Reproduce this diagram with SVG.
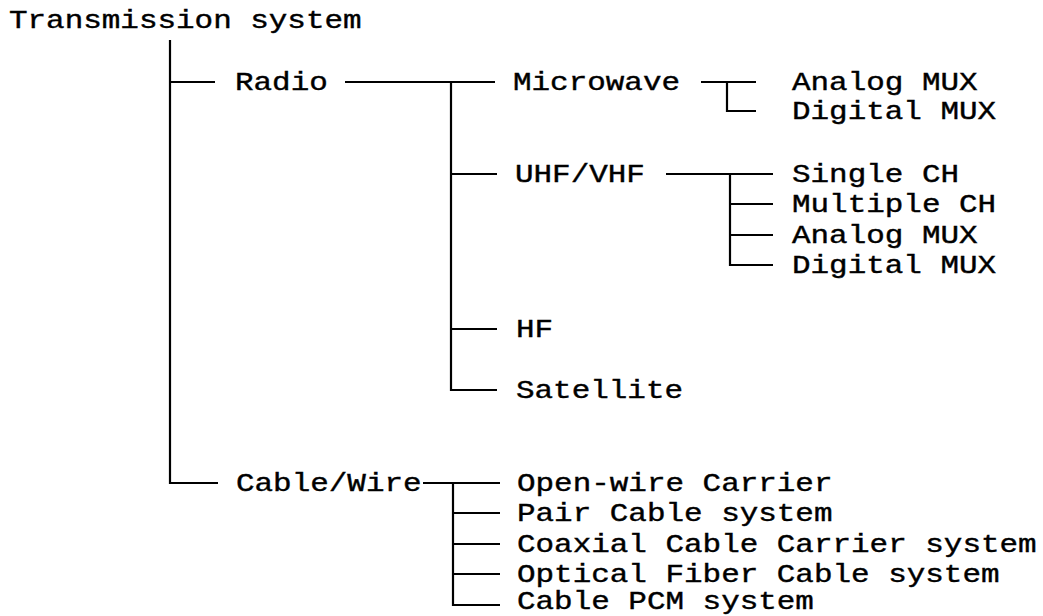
<svg xmlns="http://www.w3.org/2000/svg" width="1043" height="616" viewBox="0 0 1043 616">
<style>
.t{font-family:"Liberation Mono","Courier New",monospace;font-size:26px;fill:#000;stroke:#000;stroke-width:0.4}
.c{fill:none;stroke:#000;stroke-width:2.2;stroke-linecap:butt;stroke-linejoin:miter}
</style>
<rect x="0" y="0" width="1043" height="616" fill="#fff"/>
<g id="connectors" class="c">
<path d="M170 40 V483 H218"/>
<path d="M170 82 H215"/>
<path d="M345 82 H495"/>
<path d="M451 82 V390 H497"/>
<path d="M451 174 H497"/>
<path d="M451 329 H497"/>
<path d="M701 82 H756"/>
<path d="M727 82 V111 H756"/>
<path d="M666 174 H773"/>
<path d="M730 174 V265 H773"/>
<path d="M730 204 H773"/>
<path d="M730 235 H773"/>
<path d="M423 483 H500"/>
<path d="M453 483 V605 H500"/>
<path d="M453 513 H500"/>
<path d="M453 544 H500"/>
<path d="M453 574 H500"/>
</g>
<g id="n-root"><text class="t" transform="translate(9,28) scale(1.19,1)">Transmission system</text></g>
<g id="n-radio"><text class="t" transform="translate(235,90) scale(1.19,1)">Radio</text></g>
<g id="n-microwave"><text class="t" transform="translate(513,90) scale(1.19,1)">Microwave</text></g>
<g id="n-mw-analog"><text class="t" transform="translate(792,90) scale(1.19,1)">Analog MUX</text></g>
<g id="n-mw-digital"><text class="t" transform="translate(792,119) scale(1.19,1)">Digital MUX</text></g>
<g id="n-uhf"><text class="t" transform="translate(515,182) scale(1.19,1)">UHF/VHF</text></g>
<g id="n-single"><text class="t" transform="translate(792,182) scale(1.19,1)">Single CH</text></g>
<g id="n-multiple"><text class="t" transform="translate(792,212) scale(1.19,1)">Multiple CH</text></g>
<g id="n-uhf-analog"><text class="t" transform="translate(792,243) scale(1.19,1)">Analog MUX</text></g>
<g id="n-uhf-digital"><text class="t" transform="translate(792,273) scale(1.19,1)">Digital MUX</text></g>
<g id="n-hf"><text class="t" transform="translate(516,337) scale(1.19,1)">HF</text></g>
<g id="n-satellite"><text class="t" transform="translate(516,398) scale(1.19,1)">Satellite</text></g>
<g id="n-cable"><text class="t" transform="translate(236,491) scale(1.19,1)">Cable/Wire</text></g>
<g id="n-openwire"><text class="t" transform="translate(517,491) scale(1.19,1)">Open-wire Carrier</text></g>
<g id="n-pair"><text class="t" transform="translate(517,521) scale(1.19,1)">Pair Cable system</text></g>
<g id="n-coax"><text class="t" transform="translate(517,552) scale(1.19,1)">Coaxial Cable Carrier system</text></g>
<g id="n-optical"><text class="t" transform="translate(517,582) scale(1.19,1)">Optical Fiber Cable system</text></g>
<g id="n-pcm"><text class="t" transform="translate(517,609) scale(1.19,1)">Cable PCM system</text></g>
</svg>
